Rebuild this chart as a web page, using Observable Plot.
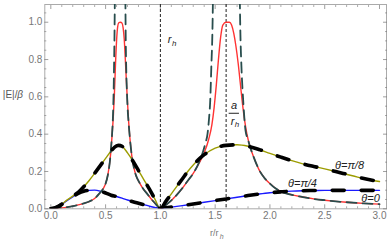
<!DOCTYPE html>
<html><head><meta charset="utf-8">
<script src="https://cdn.jsdelivr.net/npm/d3@7"></script>
<script src="https://cdn.jsdelivr.net/npm/@observablehq/plot@0.6"></script>
<style>body{margin:0;background:#fff} svg{display:block}</style>
</head><body><div id="chart"></div>
<script>
// θ = 0 (red)
const redX = [0, 0.05, 0.1, 0.15, 0.2, 0.25, 0.3, 0.35, 0.4, 0.44, 0.48, 0.5, 0.52, 0.54, 0.55, 0.56, 0.57, 0.58, 0.59, 0.6, 0.61, 0.62, 0.635, 0.65, 0.66, 0.67, 0.68, 0.69, 0.7, 0.71, 0.72, 0.73, 0.74, 0.76, 0.78, 0.8, 0.84, 0.88, 0.92, 0.96, 1.0,
  1.05, 1.1, 1.15, 1.2, 1.25, 1.3, 1.35, 1.4, 1.44, 1.47, 1.49, 1.51, 1.53, 1.55, 1.57, 1.6, 1.63, 1.65, 1.67, 1.69, 1.71, 1.73, 1.75, 1.77, 1.79, 1.82, 1.85, 1.9, 1.95, 2.0, 2.05, 2.1, 2.2, 2.3, 2.4, 2.5, 2.6, 2.7, 2.8, 2.9, 3.0];
const redY = [0, 0.002, 0.005, 0.009, 0.014, 0.021, 0.029, 0.039, 0.055, 0.08, 0.11, 0.135, 0.18, 0.26, 0.32, 0.40, 0.49, 0.61, 0.77, 0.9, 0.975, 0.997, 1.0, 0.995, 0.97, 0.91, 0.80, 0.68, 0.57, 0.47, 0.39, 0.33, 0.28, 0.215, 0.175, 0.15, 0.11, 0.08, 0.05, 0.024, 0,
  0.02, 0.045, 0.075, 0.11, 0.15, 0.19, 0.24, 0.30, 0.37, 0.45, 0.54, 0.66, 0.80, 0.92, 0.985, 1.0, 1.0, 0.985, 0.94, 0.87, 0.78, 0.67, 0.56, 0.47, 0.40, 0.33, 0.28, 0.21, 0.165, 0.135, 0.11, 0.093, 0.075, 0.063, 0.053, 0.046, 0.04, 0.035, 0.031, 0.028, 0.025];
// approximation (dark teal dashed), NaN = pole gap
const tealX = [0, 0.05, 0.1, 0.15, 0.2, 0.25, 0.3, 0.35, 0.4, 0.44, 0.48, 0.5, 0.52, 0.54, 0.55, 0.56, 0.568, 0.573, 0.577, 0.581, 0.584, 0.587, 0.63,
  0.679, 0.681, 0.684, 0.688, 0.695, 0.7, 0.71, 0.72, 0.73, 0.74, 0.76, 0.78, 0.8, 0.84, 0.88, 0.92, 0.96, 1.0,
  1.05, 1.1, 1.15, 1.2, 1.25, 1.3, 1.35, 1.38, 1.41, 1.43, 1.445, 1.455, 1.465, 1.475, 1.484, 1.6,
  1.721, 1.73, 1.74, 1.756, 1.777, 1.8, 1.82, 1.85, 1.9, 1.95, 2.0, 2.05, 2.1, 2.2, 2.3, 2.4, 2.5, 2.6, 2.7, 2.8, 2.9, 3.0];
const tealY = [0, 0.002, 0.005, 0.009, 0.014, 0.021, 0.029, 0.039, 0.055, 0.08, 0.11, 0.135, 0.18, 0.26, 0.33, 0.41, 0.51, 0.62, 0.76, 0.92, 1.1, 1.3, NaN,
  1.3, 1.1, 0.9, 0.76, 0.62, 0.55, 0.46, 0.39, 0.33, 0.28, 0.215, 0.175, 0.15, 0.11, 0.08, 0.05, 0.024, 0,
  0.02, 0.045, 0.075, 0.11, 0.15, 0.19, 0.245, 0.29, 0.35, 0.40, 0.49, 0.58, 0.76, 0.95, 1.3, NaN,
  1.3, 0.95, 0.76, 0.58, 0.42, 0.37, 0.33, 0.28, 0.21, 0.165, 0.135, 0.11, 0.093, 0.075, 0.063, 0.053, 0.046, 0.04, 0.035, 0.031, 0.028, 0.025];
// θ = π/8 (olive)
const oliveX = [0, 0.05, 0.1, 0.15, 0.2, 0.25, 0.3, 0.35, 0.4, 0.45, 0.5, 0.55, 0.6, 0.62, 0.65, 0.7, 0.75, 0.8, 0.85, 0.9, 0.95, 1.0, 1.05, 1.1, 1.15, 1.2, 1.25, 1.3, 1.35, 1.4, 1.5, 1.6, 1.7, 1.8, 1.9, 2.0, 2.1, 2.2, 2.3, 2.4, 2.5, 2.6, 2.7, 2.8, 2.9, 3.0];
const oliveY = [0, 0.008, 0.025, 0.048, 0.068, 0.088, 0.118, 0.152, 0.19, 0.23, 0.27, 0.31, 0.337, 0.34, 0.335, 0.30, 0.255, 0.205, 0.155, 0.105, 0.052, 0, 0.04, 0.08, 0.12, 0.16, 0.2, 0.235, 0.265, 0.29, 0.325, 0.34, 0.343, 0.335, 0.318, 0.297, 0.277, 0.258, 0.241, 0.227, 0.214, 0.2, 0.185, 0.17, 0.157, 0.146];
// θ = π/4 (blue)
const blueX = [0, 0.05, 0.1, 0.15, 0.2, 0.25, 0.3, 0.35, 0.4, 0.45, 0.5, 0.55, 0.6, 0.65, 0.7, 0.75, 0.8, 0.85, 0.9, 0.95, 1.0, 1.1, 1.2, 1.3, 1.4, 1.5, 1.6, 1.7, 1.8, 1.9, 2.0, 2.1, 2.2, 2.3, 2.4, 2.5, 2.6, 2.8, 3.0];
const blueY = [0, 0.007, 0.024, 0.045, 0.064, 0.082, 0.094, 0.099, 0.1, 0.095, 0.085, 0.073, 0.066, 0.057, 0.047, 0.038, 0.03, 0.022, 0.014, 0.007, 0.002, 0.009, 0.017, 0.026, 0.035, 0.044, 0.053, 0.062, 0.071, 0.079, 0.086, 0.091, 0.095, 0.097, 0.098, 0.099, 0.099, 0.099, 0.099];

const xMajor = [0, 0.5, 1.0, 1.5, 2.0, 2.5, 3.0];
const xMinor = [0.1, 0.2, 0.3, 0.4, 0.6, 0.7, 0.8, 0.9, 1.1, 1.2, 1.3, 1.4, 1.6, 1.7, 1.8, 1.9, 2.1, 2.2, 2.3, 2.4, 2.6, 2.7, 2.8, 2.9];
const yMajor = [0, 0.2, 0.4, 0.6, 0.8, 1.0];
const yMinor = [0.05, 0.1, 0.15, 0.25, 0.3, 0.35, 0.45, 0.5, 0.55, 0.65, 0.7, 0.75, 0.85, 0.9, 0.95, 1.05];
const markers = [1.0, 1.6];
const thetaLabels = [
  {x: 2.727, y: 0.232, text: "θ=π/8"},
  {x: 2.297, y: 0.136, text: "θ=π/4"},
  {x: 2.918, y: 0.055, text: "θ=0"}
];

const pts = (xs, ys) => xs.map((x, i) => ({x, y: ys[i]}));
const red = pts(redX, redY), teal = pts(tealX, tealY), olive = pts(oliveX, oliveY), blue = pts(blueX, blueY);

const gray = "#777";
const empty = () => "";
const chart = Plot.plot({
  width: 390, height: 244,
  marginTop: 4, marginRight: 4, marginBottom: 35.7, marginLeft: 44.3,
  x: {domain: [-0.055, 3.064]},
  y: {domain: [0, 1.095]},
  style: {fontFamily: "'Liberation Sans', Arial, sans-serif", fontSize: "10px", background: "white"},
  marks: [
    Plot.frame({stroke: "#aaa"}),
    Plot.axisX({anchor: "bottom", ticks: xMajor, tickSize: -4, tickPadding: 7, tickFormat: d3.format(".1f"), label: null, color: gray, strokeOpacity: 0.7}),
    Plot.axisX({anchor: "bottom", ticks: xMinor, tickSize: -2, tickFormat: empty, label: null, color: gray, strokeOpacity: 0.6}),
    Plot.axisX({anchor: "top", ticks: xMajor, tickSize: -4, tickFormat: empty, label: null, color: gray, strokeOpacity: 0.7}),
    Plot.axisX({anchor: "top", ticks: xMinor, tickSize: -2, tickFormat: empty, label: null, color: gray, strokeOpacity: 0.6}),
    Plot.axisY({anchor: "left", ticks: yMajor, tickSize: -4, tickPadding: 6.5, tickFormat: d3.format(".1f"), label: null, color: gray, strokeOpacity: 0.7}),
    Plot.axisY({anchor: "left", ticks: yMinor, tickSize: -2, tickFormat: empty, label: null, color: gray, strokeOpacity: 0.6}),
    Plot.axisY({anchor: "right", ticks: yMajor, tickSize: -4, tickFormat: empty, label: null, color: gray, strokeOpacity: 0.7}),
    Plot.axisY({anchor: "right", ticks: yMinor, tickSize: -2, tickFormat: empty, label: null, color: gray, strokeOpacity: 0.6}),
    Plot.ruleX(markers, {stroke: "#222", strokeWidth: 1, strokeDasharray: "3,2"}),
    Plot.line(red, {x: "x", y: "y", stroke: "#ff3333", strokeWidth: 1.4, curve: "monotone-x", clip: true}),
    Plot.line(blue, {x: "x", y: "y", stroke: "#1a1aff", strokeWidth: 1.4, curve: "monotone-x", clip: true}),
    Plot.line(olive, {x: "x", y: "y", stroke: "#9c9c00", strokeWidth: 1.4, curve: "monotone-x", clip: true}),
    Plot.line(teal, {x: "x", y: "y", stroke: "#284d4d", strokeWidth: 1.8, strokeDasharray: "10,6", curve: "monotone-x", clip: true}),
    Plot.line(olive, {x: "x", y: "y", stroke: "#000", strokeWidth: 3.6, strokeDasharray: "12,17", curve: "monotone-x", clip: true}),
    Plot.line(blue, {x: "x", y: "y", stroke: "#000", strokeWidth: 3.6, strokeDasharray: "12,17", curve: "monotone-x", clip: true}),
    Plot.text(thetaLabels, {x: "x", y: "y", text: "text", fill: "#222", fontSize: 11, fontStyle: "italic"}),
    // r_h marker label
    Plot.text(["r"], {x: () => 1.085, y: () => 0.905, fill: "#222", fontSize: 11, fontStyle: "italic"}),
    Plot.text(["h"], {x: () => 1.085, y: () => 0.905, dx: 4.5, dy: 3.5, fill: "#222", fontSize: 8, fontStyle: "italic"}),
    // a / r_h fraction
    Plot.text(["a"], {x: () => 1.672, y: () => 0.512, dy: -8, fill: "#222", fontSize: 11, fontStyle: "italic"}),
    Plot.ruleY([0.512], {x1: 1.628, x2: 1.722, stroke: "#222", strokeWidth: 1}),
    Plot.text(["r"], {x: () => 1.672, y: () => 0.512, dx: -1.5, dy: 8.5, fill: "#222", fontSize: 11, fontStyle: "italic"}),
    Plot.text(["h"], {x: () => 1.672, y: () => 0.512, dx: 3, dy: 11.5, fill: "#222", fontSize: 8, fontStyle: "italic"}),
    // axis labels
    Plot.text(["|E|/"], {frameAnchor: "left", y: () => 0.61, dx: -42, textAnchor: "start", fill: "#555", fontSize: 10}),
    Plot.text(["β"], {frameAnchor: "left", y: () => 0.61, dx: -27.5, textAnchor: "start", fill: "#555", fontSize: 10, fontStyle: "italic"}),
    Plot.text(["r/r"], {frameAnchor: "bottom", dy: 27, dx: -1.5, fill: "#777", fontSize: 9}),
    Plot.text(["h"], {frameAnchor: "bottom", dy: 30, dx: 6, fill: "#777", fontSize: 7, fontStyle: "italic"})
  ]
});
document.getElementById("chart").appendChild(chart);
</script>
</body></html>
